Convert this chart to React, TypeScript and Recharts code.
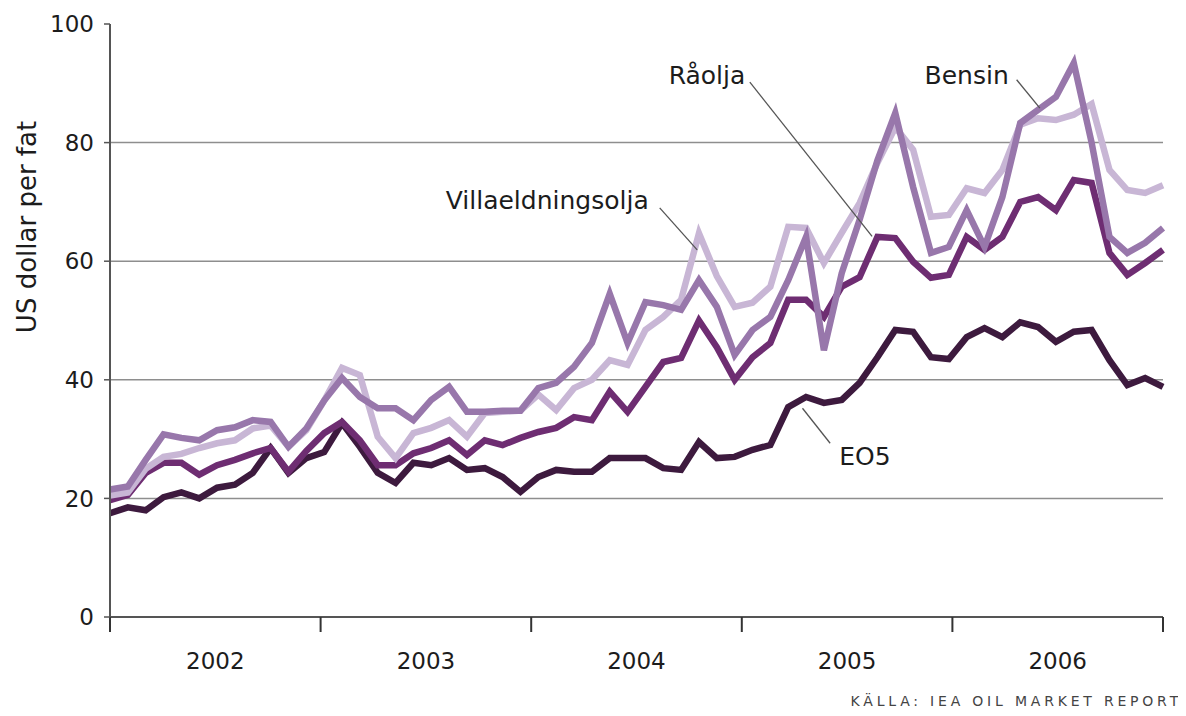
import { LineChart, Line, XAxis, YAxis, CartesianGrid, ReferenceLine, ReferenceDot } from 'recharts';

const YEARS = ['2002', '2003', '2004', '2005', '2006'];

// monthly prices, US dollar per fat, Jan 2002 - Dec 2006
const BENSIN = [
  21.5, 22, 26.5, 30.8, 30.2, 29.8, 31.5, 32, 33.2, 32.9, 28.7, 31.8,
  36.5, 40.3, 37.1, 35.2, 35.2, 33.2, 36.6, 38.8, 34.6, 34.6, 34.8, 34.8,
  38.6, 39.5, 42.2, 46.2, 54.5, 46.2, 53.1, 52.6, 51.8, 56.8, 52.3, 44.2,
  48.4, 50.6, 56.8, 64.1, 45, 58, 67, 77, 85, 72.5, 61.4, 62.4,
  68.6, 62.4, 70.8, 83.3, 85.5, 87.7, 93.4, 80, 64.1, 61.4, 63.1, 65.6,
];
const VILLA = [
  20.5, 21, 25, 27, 27.5, 28.5, 29.3, 29.8, 31.8, 32.3, 28.7, 31.5,
  36.5, 42, 40.8, 30.4, 26.8, 31, 31.9, 33.2, 30.4, 34.4, 34.6, 34.8,
  37.5, 34.9, 38.6, 40, 43.3, 42.5, 48.4, 50.6, 53.5, 64.7, 57.5, 52.3,
  53, 55.7, 65.8, 65.6, 59.7, 64.8, 69.8, 76.6, 82.6, 78.8, 67.5, 67.8,
  72.3, 71.5, 75.4, 83, 84.1, 83.8, 84.7, 86.5, 75.4, 72, 71.5, 72.8,
];
const RAOLJA = [
  19.7, 20.6, 24.3, 26, 26, 24, 25.6, 26.5, 27.6, 28.5, 24.5, 28,
  31, 32.9, 29.8, 25.6, 25.6, 27.6, 28.5, 29.8, 27.3, 29.8, 29, 30.2,
  31.2, 31.9, 33.7, 33.2, 38, 34.6, 38.8, 43, 43.7, 50, 45.5, 40,
  43.8, 46.2, 53.5, 53.5, 50.6, 55.7, 57.3, 64.1, 63.9, 59.9, 57.2, 57.7,
  64.1, 61.9, 64.1, 70, 70.8, 68.6, 73.7, 73.2, 61.4, 57.7, 59.7, 61.9,
];
const EO5 = [
  17.5, 18.5, 18, 20.2, 21, 20, 21.8, 22.3, 24.3, 28.5, 24.3, 26.8,
  27.8, 32.7, 28.7, 24.3, 22.6, 26, 25.6, 26.8, 24.8, 25.1, 23.6, 21.1,
  23.6, 24.8, 24.5, 24.5, 26.8, 26.8, 26.8, 25.1, 24.8, 29.5, 26.8, 27,
  28.2, 29, 35.4, 37.1, 36.1, 36.6, 39.5, 43.8, 48.4, 48.1, 43.8, 43.5,
  47.2, 48.7, 47.2, 49.7, 48.9, 46.4, 48.1, 48.4, 43.3, 39.1, 40.3, 38.8,
];

const Y_TICKS = [0, 20, 40, 60, 80, 100];
const GRID_VALUES = [20, 40, 60, 80];

const data = BENSIN.map((v, i) => ({
  i,
  bensin: v,
  villa: VILLA[i],
  raolja: RAOLJA[i],
  eo5: EO5[i],
}));

const N = data.length;
const yearTicks = YEARS.map((_, k) => (k * (N - 1)) / YEARS.length).concat(N - 1);

const W = 1178;
const H = 698;
const MARGIN = { top: 16, right: 23, bottom: 29, left: 42 };
const Y_AXIS_W = 60;
const PLOT_W = W - MARGIN.left - MARGIN.right - Y_AXIS_W;
const YEAR_PX = PLOT_W / YEARS.length;

const FONT = '"DejaVu Sans", Verdana, sans-serif';
const INK = '#1c1c1c';

// annotation labels and leader lines, in data units
const labels = [
  { text: 'Villaeldningsolja', x: 24.5, y: 70.3 },
  { text: 'Råolja', x: 33.45, y: 91.4 },
  { text: 'Bensin', x: 48.0, y: 91.4 },
  { text: 'EO5', x: 42.3, y: 27.2 },
];
const leaders = [
  [{ x: 30.8, y: 69.0 }, { x: 32.9, y: 61.9 }],
  [{ x: 35.85, y: 90.2 }, { x: 42.7, y: 64.2 }],
  [{ x: 50.8, y: 90.6 }, { x: 52.1, y: 85.8 }],
  [{ x: 38.8, y: 35.2 }, { x: 40.35, y: 29.3 }],
];

const YearTick = ({ x, y, index }: any) => {
  if (index >= YEARS.length) return null;
  return (
    <text x={x + YEAR_PX / 2} y={y + 33} textAnchor="middle" fontSize={23} fill={INK} fontFamily={FONT}>
      {YEARS[index]}
    </text>
  );
};

export default function App() {
  return (
    <div style={{ position: 'relative', width: W, height: H, fontFamily: FONT }}>
      <LineChart width={W} height={H} data={data} margin={MARGIN}>
        <CartesianGrid vertical={false} horizontalValues={GRID_VALUES} stroke="#8e8e8e" strokeWidth={1.5} />
        <XAxis
          type="number"
          dataKey="i"
          domain={[0, N - 1]}
          ticks={yearTicks}
          interval={0}
          height={60}
          tickSize={15}
          tickMargin={4}
          axisLine={{ stroke: '#555', strokeWidth: 2 }}
          tickLine={{ stroke: '#333', strokeWidth: 2 }}
          tick={<YearTick />}
        />
        <YAxis
          domain={[0, 100]}
          ticks={Y_TICKS}
          width={Y_AXIS_W}
          tickSize={6}
          tickMargin={10}
          axisLine={{ stroke: '#555', strokeWidth: 2 }}
          tickLine={{ stroke: '#555', strokeWidth: 1.5 }}
          tick={{ fill: INK, fontSize: 23, fontFamily: FONT }}
        />
        <Line dataKey="eo5" stroke="#3d1a3e" strokeWidth={6.5} dot={false} isAnimationActive={false} />
        <Line dataKey="raolja" stroke="#6e2d72" strokeWidth={6.5} dot={false} isAnimationActive={false} />
        <Line dataKey="villa" stroke="#c8b6d5" strokeWidth={6.5} dot={false} isAnimationActive={false} />
        <Line dataKey="bensin" stroke="#9877ab" strokeWidth={6.5} dot={false} isAnimationActive={false} />
        {leaders.map((seg, k) => (
          <ReferenceLine key={'l' + k} segment={seg} stroke="#555" strokeWidth={1.3} />
        ))}
        {labels.map((l) => (
          <ReferenceDot
            key={l.text}
            x={l.x}
            y={l.y}
            r={0}
            fill="none"
            stroke="none"
            label={{ value: l.text, position: 'center', fill: INK, fontSize: 25, fontFamily: FONT }}
          />
        ))}
      </LineChart>
      <div style={{ position: 'absolute', left: 0, top: 219, width: 40, height: 0 }}>
        <div
          style={{
            position: 'absolute',
            left: 19,
            top: 0,
            transform: 'translate(-50%, -50%) rotate(-90deg)',
            whiteSpace: 'nowrap',
            fontSize: 26,
            color: INK,
          }}
        >
          US dollar per fat
        </div>
      </div>
      <div
        style={{
          position: 'absolute',
          right: 4,
          top: 685,
          fontSize: 14,
          letterSpacing: 3.8,
          color: '#444',
          whiteSpace: 'nowrap',
        }}
      >
        KÄLLA: IEA OIL MARKET REPORT
      </div>
    </div>
  );
}
